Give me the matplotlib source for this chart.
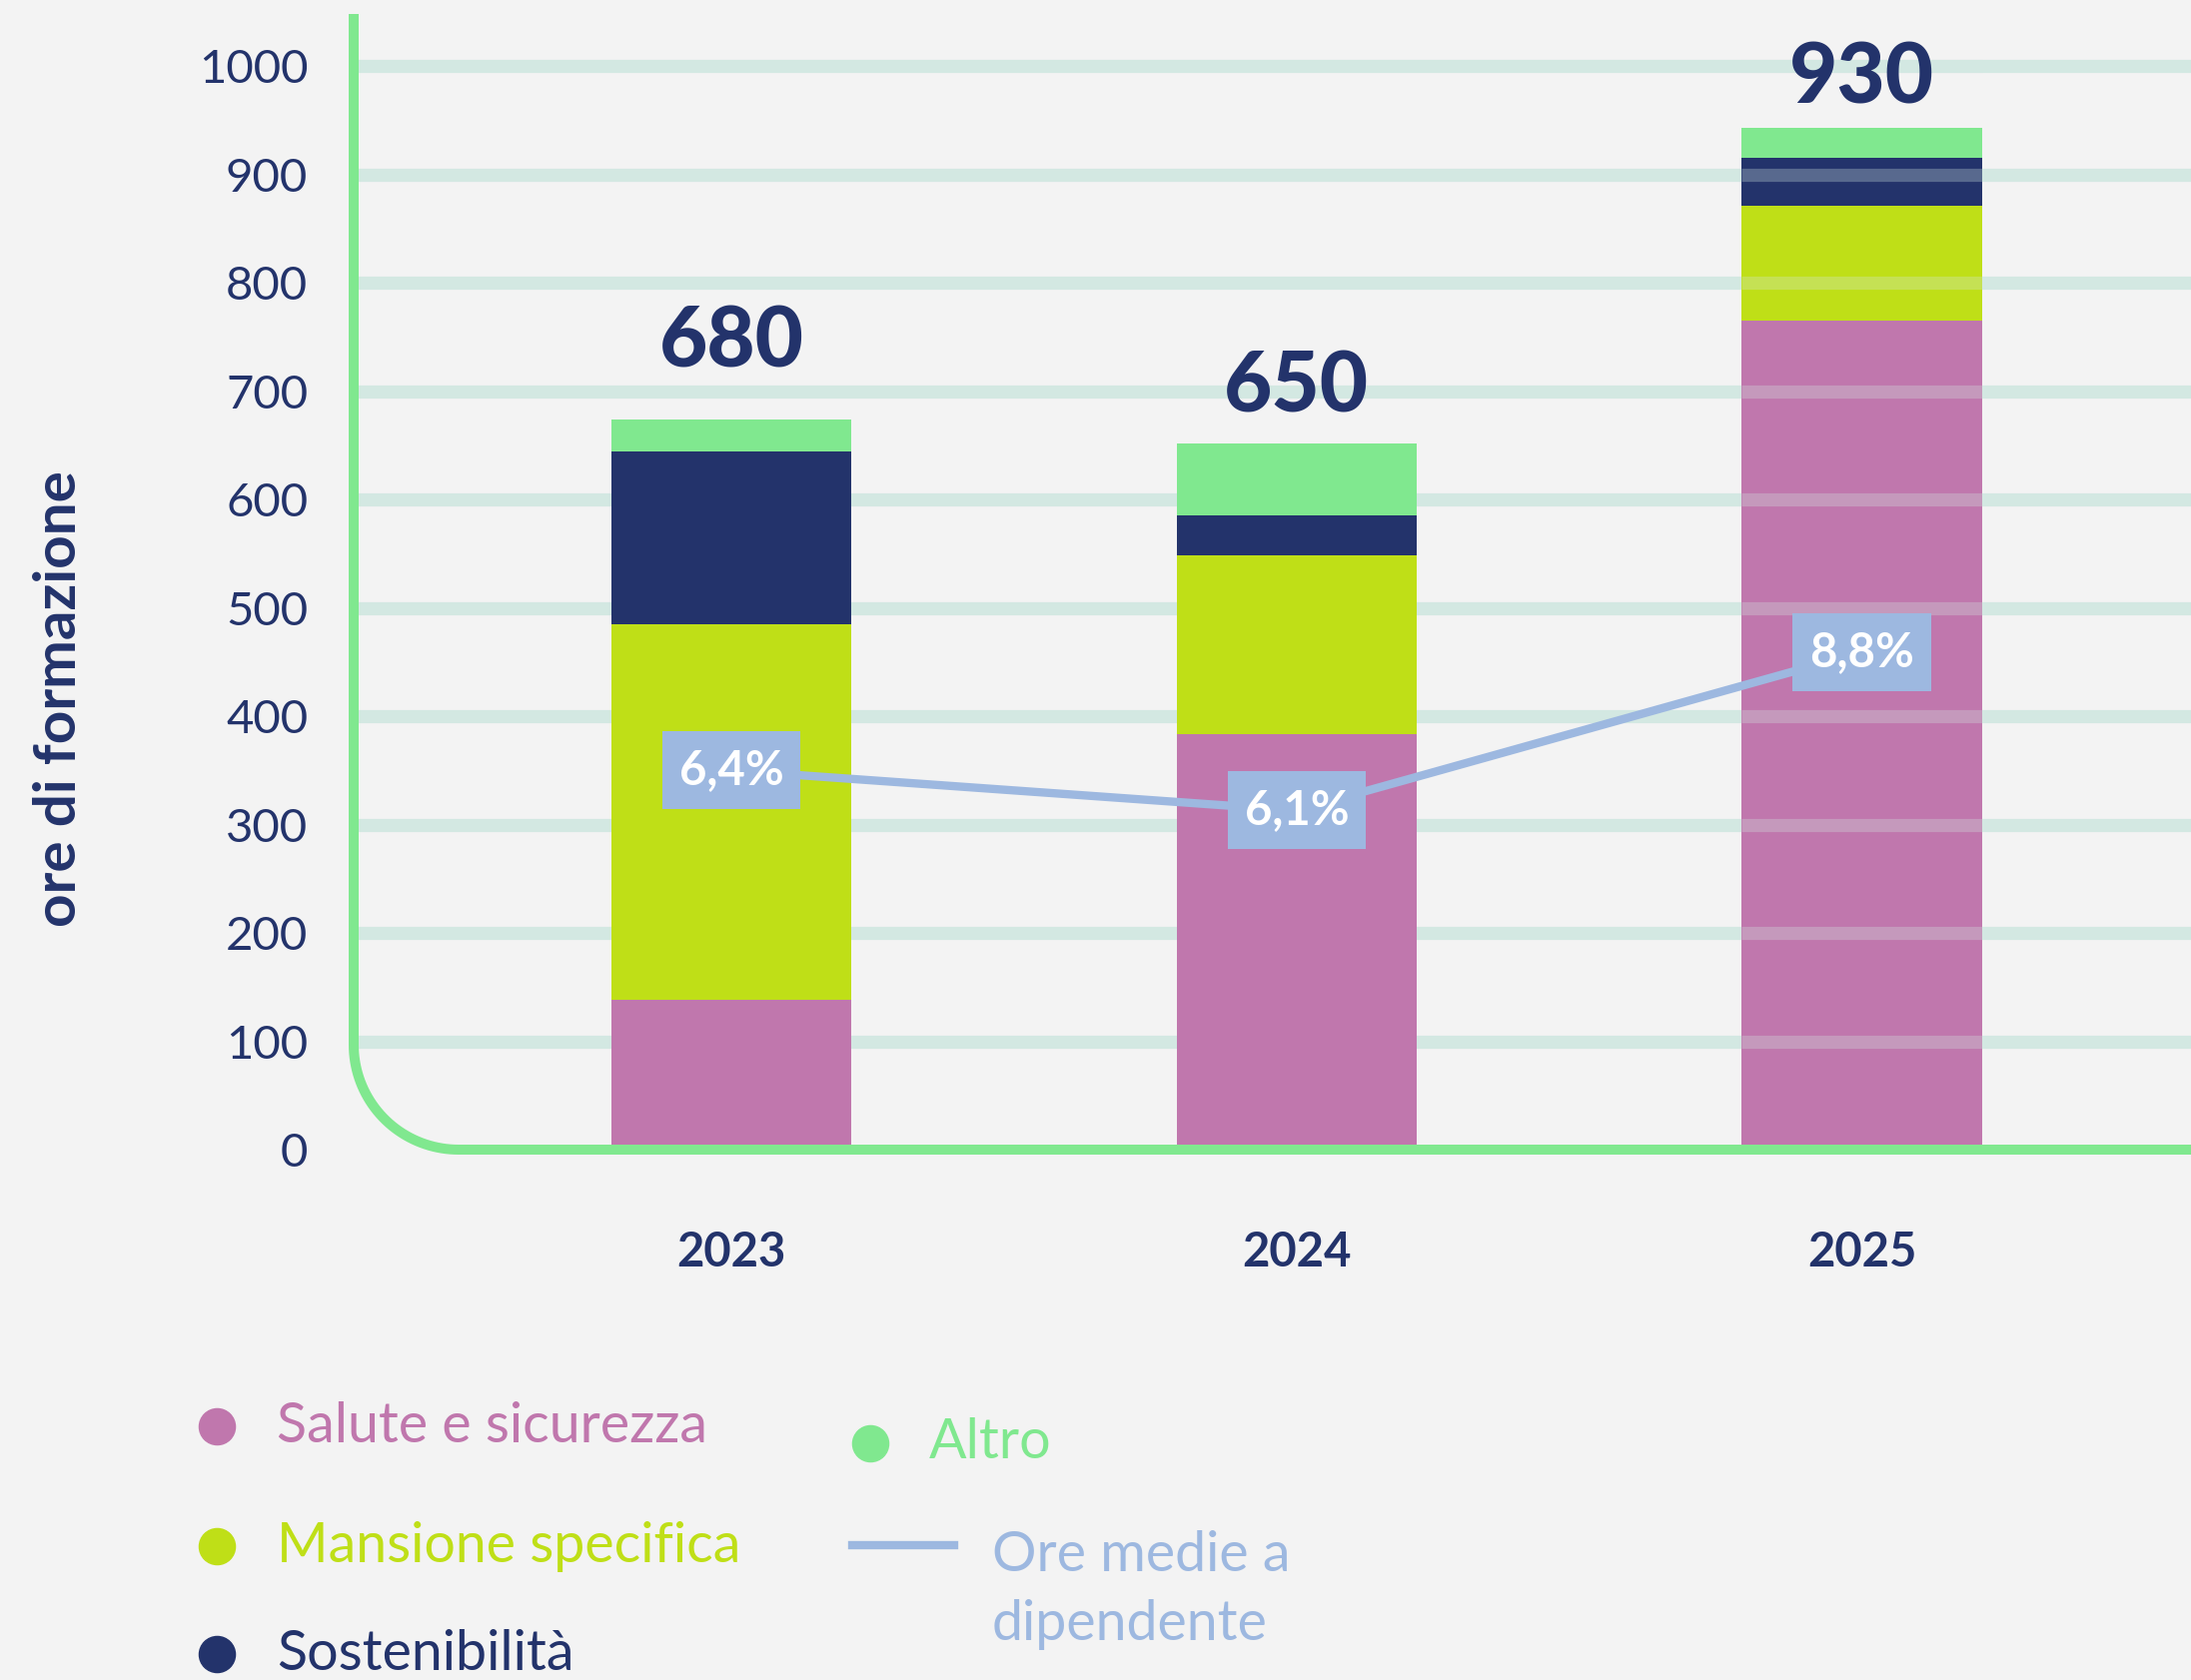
import matplotlib
matplotlib.use("Agg")
import matplotlib.pyplot as plt
import numpy as np
from matplotlib.lines import Line2D
from matplotlib.path import Path
from matplotlib.patches import PathPatch

# data
anni = ["2023", "2024", "2025"]
salute = [138, 383, 765]
mansione = [347, 165, 106]
sostenibilita = [159, 37, 44]
altro = [30, 67, 28]
totali = ["680", "650", "930"]
totali_pos = [745, 703, 988]      # where the totals sit (hours scale)
ore_medie = ["6,4%", "6,1%", "8,8%"]
ore_medie_pos = [350, 313, 459]   # vertical placement of the line in the chart (hours scale)
yticks = list(range(0, 1001, 100))

serie = [
    ("Salute e sicurezza", salute, "#c077ad"),
    ("Mansione specifica", mansione, "#bfdf17"),
    ("Sostenibilità", sostenibilita, "#23336b"),
    ("Altro", altro, "#80e88f"),
]
NAVY = "#23336b"
LINE = "#9db8e0"
GRID = "#d3e8e2"
AXIS = "#80e88f"
BG = "#f3f3f3"

plt.rcParams['font.family'] = ['Lato', 'DejaVu Sans']

W, H = 2193, 1682
fig = plt.figure(figsize=(W / 100, H / 100), dpi=100, facecolor=BG)

# axes placed in pixels
ax_l, ax_b, ax_t = 354, 531, 1668
ax = fig.add_axes([ax_l / W, ax_b / H, (W - ax_l) / W, (ax_t - ax_b) / H])
ax.set_facecolor("none")
x = np.arange(len(anni))
xl = (-0.668, 2.582)
ax.set_xlim(*xl)
ax.set_ylim(0, 1048)
for s in ax.spines.values():
    s.set_visible(False)

# grid lines
ax.hlines(yticks[1:], xl[0], xl[1], color=GRID, lw=9.5, zorder=0)

width = 0.425
bottom = np.zeros(len(anni))
for nome, vals, col in serie:
    ax.bar(x, vals, width, bottom=bottom, color=col, zorder=2, linewidth=0)
    bottom += np.array(vals)

# grid shows faintly over the last bar
ax.hlines(yticks[1:], x[-1] - width / 2, x[-1] + width / 2, color=GRID, lw=9.5, alpha=0.3, zorder=3)

for xi, yi, lab in zip(x, totali_pos, totali):
    ax.text(xi, yi, lab, ha="center", va="center", fontsize=60, fontweight="black", color=NAVY)

ax.plot(x, ore_medie_pos, color=LINE, lw=6, zorder=4, solid_capstyle="butt")
for xi, yi, lab in zip(x, ore_medie_pos, ore_medie):
    ax.text(xi, yi, lab, ha="center", va="center", fontsize=34, fontweight="bold",
            color="white", zorder=5,
            bbox=dict(boxstyle="square,pad=0.36", fc=LINE, ec="none"))

ax.set_yticks(yticks)
ax.set_yticklabels([str(v) for v in yticks], fontsize=34, color=NAVY)
ax.set_xticks(x)
ax.set_xticklabels(anni, fontsize=34, fontweight="bold", color=NAVY)
ax.tick_params(axis="y", length=0, pad=33)
ax.tick_params(axis="x", length=0, pad=58)

# green axis line with rounded corner (pixel coords -> figure fraction)
r = 105
th = np.linspace(np.pi, 1.5 * np.pi, 40)
arc_x = ax_l + r + r * np.cos(th)
arc_y = ax_b + r + r * np.sin(th)
px = np.concatenate([[ax_l], arc_x, [W]])
py = np.concatenate([[ax_t], arc_y, [ax_b]])
verts = np.column_stack([px / W, py / H])
fig.add_artist(PathPatch(Path(verts), transform=fig.transFigure, fill=False,
                         ec=AXIS, lw=7.2, capstyle="butt", joinstyle="round"))

fig.text(60 / W, 1 - 700 / H, "ore di formazione", rotation=90, ha="center", va="center",
         fontsize=42, fontweight="bold", color=NAVY)

# legend
leg_pos = [(217, 277, 1428), (217, 277, 1548), (217, 277, 1656), (871, 930, 1445)]
for (mx, tx, ty), (nome, vals, col) in zip(leg_pos, serie):
    fig.add_artist(Line2D([mx / W], [1 - ty / H], marker="o", ms=26, color=col,
                          transform=fig.transFigure, linestyle="none"))
    fig.text(tx / W, 1 - ty / H, nome, ha="left", va="center", fontsize=40, color=col)
fig.add_artist(Line2D([853 / W, 955 / W], [1 - 1547 / H] * 2, color=LINE, lw=6,
                      transform=fig.transFigure))
fig.text(993 / W, 1 - 1592 / H, "Ore medie a\ndipendente", ha="left", va="center",
         fontsize=40, color=LINE, linespacing=1.45)

fig.savefig("out.png", dpi=100, facecolor=BG)
